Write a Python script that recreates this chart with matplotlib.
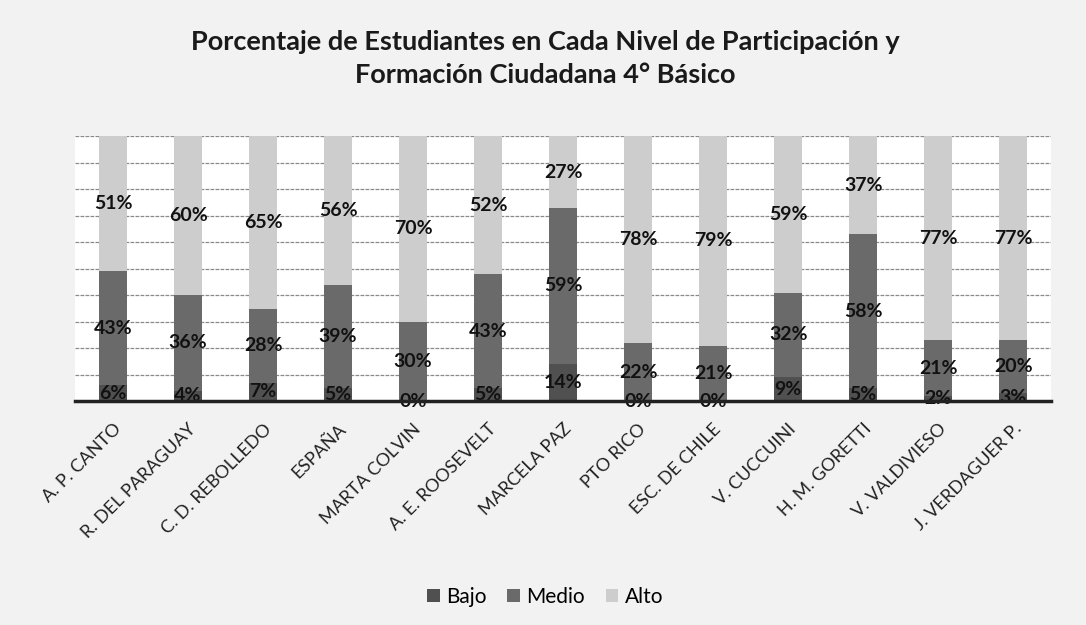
import matplotlib
matplotlib.use('Agg')
import matplotlib.pyplot as plt
import numpy as np

plt.rcParams['font.family'] = ['Lato', 'DejaVu Sans']

schools = ['A. P. CANTO', 'R. DEL PARAGUAY', 'C. D. REBOLLEDO', 'ESPAÑA',
           'MARTA COLVIN', 'A. E. ROOSEVELT', 'MARCELA PAZ', 'PTO RICO',
           'ESC. DE CHILE', 'V. CUCCUINI', 'H. M. GORETTI', 'V. VALDIVIESO',
           'J. VERDAGUER P.']
bajo = [6, 4, 7, 5, 0, 5, 14, 0, 0, 9, 5, 2, 3]
medio = [43, 36, 28, 39, 30, 43, 59, 22, 21, 32, 58, 21, 20]
alto = [51, 60, 65, 56, 70, 52, 27, 78, 79, 59, 37, 77, 77]

colors = {'Bajo': '#505050', 'Medio': '#6a6a6a', 'Alto': '#cdcdcd'}

fig = plt.figure(figsize=(10.86, 6.25), dpi=100)
fig.patch.set_facecolor('#f2f2f2')
ax = fig.add_axes([0.0695, 0.358, 0.898, 0.424])
ax.set_facecolor('white')

x = np.arange(len(schools))
width = 0.37
bottom = np.zeros(len(schools))
for name, vals in [('Bajo', bajo), ('Medio', medio), ('Alto', alto)]:
    vals = np.array(vals)
    ax.bar(x, vals, width, bottom=bottom, color=colors[name], label=name, zorder=2)
    for xi, b, v in zip(x, bottom, vals):
        ax.text(xi, b + v / 2, f'{v}%', ha='center', va='center',
                fontsize=14, fontweight='bold', color='#111111', zorder=3)
    bottom += vals

ax.set_xlim(-0.5, len(schools) - 0.5)
ax.set_ylim(0, 100)
ax.set_yticks(np.arange(0, 101, 10))
ax.yaxis.grid(True, color='#8a8a8a', lw=0.9, ls=(0, (3, 1)))
ax.set_axisbelow(True)
ax.tick_params(axis='y', left=False, labelleft=False)
ax.tick_params(axis='x', length=0, pad=14)
for s in ['top', 'right', 'left']:
    ax.spines[s].set_visible(False)
ax.spines['bottom'].set_color('#222222')
ax.spines['bottom'].set_linewidth(2.5)
ax.spines['bottom'].set_zorder(4)

ax.set_xticks(x)
ax.set_xticklabels(schools, rotation=45, ha='right', rotation_mode='anchor',
                   fontsize=13, color='#222222')

fig.text(0.502, 0.933, 'Porcentaje de Estudiantes en Cada Nivel de Participación y',
         ha='center', va='center', fontsize=19.5, fontweight='bold', color='#1a1a1a')
fig.text(0.502, 0.88, 'Formación Ciudadana 4° Básico',
         ha='center', va='center', fontsize=19.5, fontweight='bold', color='#1a1a1a')

fig.legend(loc='center', bbox_to_anchor=(0.502, 0.045), ncol=3, frameon=False,
           fontsize=15, handlelength=0.6, handleheight=0.6, handletextpad=0.3,
           columnspacing=1.0)

fig.savefig('out.png', dpi=100, facecolor=fig.get_facecolor())
